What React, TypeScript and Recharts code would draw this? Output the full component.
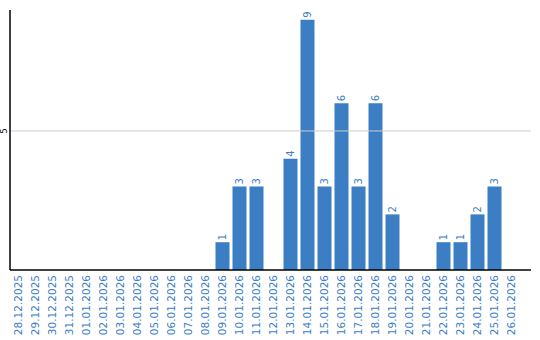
import React from 'react';
import { BarChart, Bar, XAxis, YAxis, ReferenceLine, LabelList } from 'recharts';

const dates = [
  '28.12.2025', '29.12.2025', '30.12.2025', '31.12.2025',
  '01.01.2026', '02.01.2026', '03.01.2026', '04.01.2026', '05.01.2026',
  '06.01.2026', '07.01.2026', '08.01.2026', '09.01.2026', '10.01.2026',
  '11.01.2026', '12.01.2026', '13.01.2026', '14.01.2026', '15.01.2026',
  '16.01.2026', '17.01.2026', '18.01.2026', '19.01.2026', '20.01.2026',
  '21.01.2026', '22.01.2026', '23.01.2026', '24.01.2026', '25.01.2026',
  '26.01.2026',
];
const counts = [
  0, 0, 0, 0, 0, 0, 0, 0, 0, 0, 0, 0,
  1, 3, 3, 0, 4, 9, 3, 6, 3, 6, 2, 0, 0, 1, 1, 2, 3, 0,
];
const yTicks = [5];

const data = dates.map((d, i) => ({ date: d, count: counts[i] }));

const BLUE = '#3b7ec3';
const FONT = '"DejaVu Sans", Verdana, sans-serif';

const DateTick = (props: any) => {
  const { x, y, payload } = props;
  return (
    <g transform={`translate(${x},${y})`}>
      <text
        transform="rotate(-90)"
        textAnchor="end"
        dy="0.3em"
        fill={BLUE}
        fontSize={10.5}
        fontFamily={FONT}
      >
        {payload.value}
      </text>
    </g>
  );
};

const ValueTick = (props: any) => {
  const { x, y, payload } = props;
  return (
    <g transform={`translate(${x + 1},${y})`}>
      <text transform="rotate(-90)" textAnchor="middle" fill="#000" fontSize={8} fontFamily={FONT}>
        {payload.value}
      </text>
    </g>
  );
};

const BarValue = (props: any) => {
  const { x, y, width, value } = props;
  if (!value) return null;
  const cx = x + width / 2;
  return (
    <g transform={`translate(${cx},${y - 2})`}>
      <text transform="rotate(-90)" textAnchor="start" dy="0.35em" fill={BLUE} fontSize={10} fontFamily={FONT}>
        {value}
      </text>
    </g>
  );
};

export default function App() {
  return (
    <div style={{ position: 'absolute', left: 0, top: 0 }}>
      <BarChart
        width={540}
        height={340}
        data={data}
        margin={{ top: 10, right: 9, bottom: 0, left: 0 }}
        barCategoryGap={1.5}
      >
        <ReferenceLine y={5} stroke="#cccccc" />
        <XAxis
          dataKey="date"
          interval={0}
          height={70}
          tickLine={false}
          tickSize={0}
          tickMargin={5}
          padding={{ left: 0, right: 11 }}
          axisLine={{ stroke: '#000', strokeWidth: 1.5 }}
          tick={<DateTick />}
        />
        <YAxis
          width={10}
          domain={[0, 9.35]}
          ticks={yTicks}
          tickLine={false}
          tickSize={0}
          tickMargin={4}
          axisLine={{ stroke: '#000', strokeWidth: 1.5 }}
          tick={<ValueTick />}
        />
        <Bar dataKey="count" fill={BLUE} isAnimationActive={false}>
          <LabelList dataKey="count" content={<BarValue />} />
        </Bar>
      </BarChart>
    </div>
  );
}
